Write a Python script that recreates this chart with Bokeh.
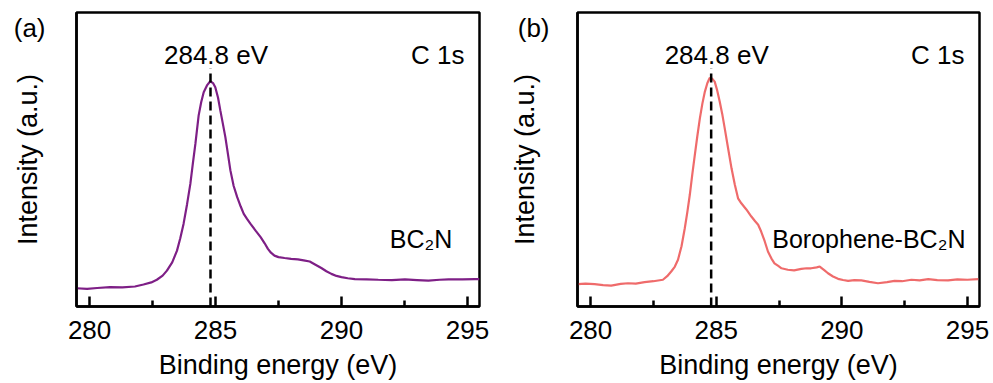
from bokeh.plotting import figure
from bokeh.layouts import row
from bokeh.models import Range1d, FixedTicker, Label
from bokeh.embed import file_html
from bokeh.resources import INLINE

FONT = "Liberation Sans"

# ---- data -------------------------------------------------------------
x_ticks = [280, 285, 290, 295]
x_minor = [282.5, 287.5, 292.5]
x_range = (279.48, 295.48)
y_range = (0.0, 1.0)

peak_pos = 284.8
dash_top = 0.81
tag_pos = 0.947

energy_a = [279.48, 279.9, 280.3, 280.81, 281.3, 281.8, 282.14, 282.45, 282.67, 282.9,
            283.07, 283.28, 283.47, 283.6, 283.73, 283.87, 284.0, 284.1, 284.2, 284.33,
            284.43, 284.53, 284.66, 284.79, 284.9, 284.99, 285.1, 285.19, 285.29, 285.39,
            285.49, 285.59, 285.72, 285.86, 286.0, 286.12, 286.25, 286.39, 286.59, 286.79,
            286.95, 287.08, 287.2, 287.34, 287.5, 287.74, 288.0, 288.27, 288.5, 288.74,
            288.95, 289.2, 289.4, 289.6, 289.8, 290.0, 290.25, 290.53, 291.0, 291.46,
            292.0, 292.52, 293.0, 293.45, 293.9, 294.25, 294.8, 295.31, 295.48]
intensity_a = [0.062, 0.060, 0.063, 0.066, 0.065, 0.068, 0.075, 0.082, 0.091, 0.105,
               0.122, 0.150, 0.190, 0.232, 0.281, 0.348, 0.417, 0.487, 0.553, 0.650,
               0.695, 0.729, 0.752, 0.766, 0.760, 0.746, 0.710, 0.667, 0.622, 0.576,
               0.520, 0.463, 0.410, 0.372, 0.340, 0.315, 0.298, 0.281, 0.258, 0.236,
               0.215, 0.196, 0.183, 0.173, 0.168, 0.165, 0.162, 0.160, 0.157, 0.153,
               0.143, 0.131, 0.120, 0.111, 0.104, 0.100, 0.096, 0.093, 0.092, 0.091,
               0.090, 0.092, 0.090, 0.088, 0.091, 0.092, 0.092, 0.093, 0.093]

energy_b = [279.49, 279.8, 280.16, 280.5, 280.82, 281.2, 281.49, 281.8, 282.15, 282.5,
            282.88, 283.05, 283.21, 283.35, 283.48, 283.62, 283.75, 283.85, 283.95, 284.05,
            284.15, 284.25, 284.35, 284.45, 284.55, 284.65, 284.74, 284.84, 284.94, 285.04,
            285.14, 285.24, 285.34, 285.47, 285.61, 285.74, 285.87, 286.0, 286.2, 286.4,
            286.55, 286.67, 286.79, 286.93, 287.06, 287.2, 287.32, 287.47, 287.6, 287.85,
            288.1, 288.39, 288.6, 288.78, 289.0, 289.12, 289.3, 289.45, 289.65, 289.85,
            290.05, 290.25, 290.5, 290.78, 291.1, 291.44, 291.8, 292.1, 292.4, 292.77,
            293.1, 293.44, 293.8, 294.23, 294.6, 295.0, 295.43]
intensity_b = [0.076, 0.078, 0.076, 0.073, 0.071, 0.077, 0.079, 0.078, 0.083, 0.086,
               0.091, 0.103, 0.119, 0.135, 0.159, 0.205, 0.266, 0.320, 0.380, 0.450,
               0.516, 0.580, 0.640, 0.690, 0.731, 0.760, 0.777, 0.775, 0.765, 0.735,
               0.697, 0.655, 0.606, 0.540, 0.470, 0.415, 0.368, 0.351, 0.330, 0.306,
               0.290, 0.278, 0.255, 0.222, 0.187, 0.163, 0.147, 0.138, 0.130, 0.125,
               0.123, 0.128, 0.130, 0.130, 0.133, 0.136, 0.124, 0.113, 0.102, 0.094,
               0.090, 0.087, 0.090, 0.089, 0.084, 0.079, 0.083, 0.087, 0.086, 0.091,
               0.089, 0.093, 0.090, 0.089, 0.092, 0.091, 0.093]

panel_tags = ["(a)", "(b)"]
sample_names = ["BC\u2082N", "Borophene-BC\u2082N"]
core_level = "C 1s"
peak_label = "284.8 eV"
x_title = "Binding energy (eV)"
y_title = "Intensity (a.u.)"


def make_panel(energy, intensity, color, tag, sample, width, bl, br, sample_x,
               tag_standoff, ylabel_standoff):
    p = figure(width=width, height=383, output_backend="svg", toolbar_location=None,
               x_range=Range1d(*x_range), y_range=Range1d(*y_range),
               min_border_left=bl, min_border_right=br, min_border_top=12,
               min_border_bottom=77)
    p.background_fill_color = "white"
    p.border_fill_color = "white"
    p.outline_line_color = "black"
    p.outline_line_width = 2.5
    p.outline_line_alpha = 1.0
    p.grid.visible = False

    xa = p.xaxis[0]
    xa.ticker = FixedTicker(ticks=x_ticks, minor_ticks=x_minor)
    xa.major_tick_in = 10
    xa.major_tick_out = 0
    xa.minor_tick_in = 6
    xa.minor_tick_out = 0
    xa.major_tick_line_width = 2.5
    xa.minor_tick_line_width = 2.5
    xa.axis_line_width = 2.5
    xa.major_label_text_font = FONT
    xa.major_label_text_font_size = "26px"
    xa.major_label_text_color = "black"
    xa.major_label_standoff = 14
    xa.axis_label = x_title
    xa.axis_label_text_font = FONT
    xa.axis_label_text_font_size = "27px"
    xa.axis_label_text_font_style = "normal"
    xa.axis_label_text_color = "black"
    xa.axis_label_standoff = 8

    # left axis: no ticks; the panel tag sits where a tick label would
    ya = p.yaxis[0]
    ya.ticker = FixedTicker(ticks=[tag_pos])
    ya.major_label_overrides = {tag_pos: tag}
    ya.major_tick_in = 0
    ya.major_tick_out = 0
    ya.minor_tick_in = 0
    ya.minor_tick_out = 0
    ya.major_label_standoff = tag_standoff
    ya.major_label_text_font = FONT
    ya.major_label_text_font_size = "26px"
    ya.major_label_text_color = "black"
    ya.axis_line_width = 2.5
    ya.axis_label = y_title
    ya.axis_label_text_font = FONT
    ya.axis_label_text_font_size = "27px"
    ya.axis_label_text_font_style = "normal"
    ya.axis_label_text_color = "black"
    ya.axis_label_standoff = ylabel_standoff

    p.line(energy, intensity, line_color=color, line_width=2.2)
    p.line([peak_pos, peak_pos], [y_range[0], dash_top], line_color="black",
           line_width=2.5, line_dash="9 5")

    p.add_layout(Label(x=285.02, y=0.854, text=peak_label, text_font=FONT,
                       text_font_size="26px", text_align="center",
                       text_baseline="alphabetic", text_color="black"))
    p.add_layout(Label(x=294.88, y=0.854, text=core_level, text_font=FONT,
                       text_font_size="26px", text_align="right",
                       text_baseline="alphabetic", text_color="black"))
    p.add_layout(Label(x=sample_x, y=0.228, text=sample, text_font=FONT,
                       text_font_size="25px", text_align="right",
                       text_baseline="alphabetic", text_color="black"))
    return p


pa = make_panel(energy_a, intensity_a, "#7e1f86", panel_tags[0], sample_names[0],
                497, 76, 18, 294.4, 31, -32)
pb = make_panel(energy_b, intensity_b, "#ef6b6b", panel_tags[1], sample_names[1],
                496, 80, 14, 294.92, 28, -25)

layout = row(pa, pb)
open("out.html", "w").write(file_html(layout, INLINE))
